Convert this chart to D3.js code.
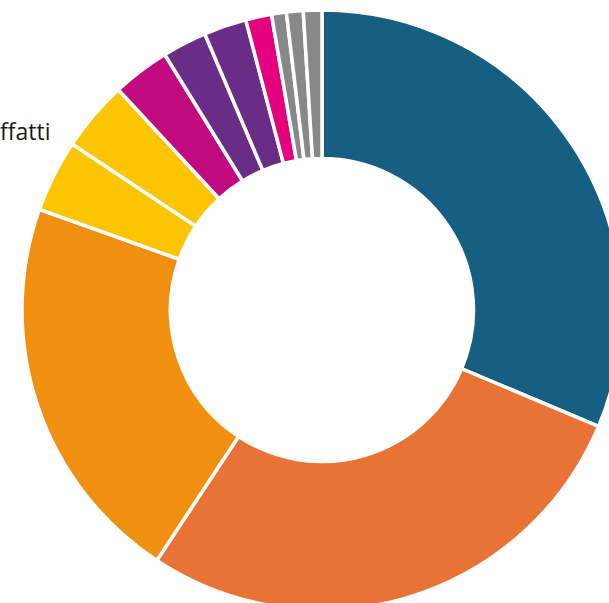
<!DOCTYPE html>
<html>
<head>
<meta charset="utf-8">
<script src="https://cdn.jsdelivr.net/npm/d3@7"></script>
<style>
  html, body { margin: 0; padding: 0; background: #fff; overflow: hidden; }
  svg { display: block; }
</style>
</head>
<body>
<div id="chart"></div>
<script>
// Slice data, clockwise from 12 o'clock
const categories = ["c1", "c2", "c3", "c4", "c5", "c6", "c7", "c8", "c9", "c10", "c11", "c12"];
const values = [31.4, 28.0, 21.2, 3.9, 3.8, 3.1, 2.4, 2.3, 1.4, 0.8, 0.9, 1.0];
const colors = ["#175f82", "#e87335", "#f18f11", "#fdc400", "#fdc400", "#c00a7e",
                "#6a2d87", "#6a2d87", "#e5007d", "#888888", "#888888", "#888888"];
// the only visible (clipped) label
const labelText = "ffatti";

const width = 609;
const height = 603;
const cx = 322, cy = 310;
const outerR = 300, innerR = 151.5;

const svg = d3.select("#chart")
    .append("svg")
    .attr("width", width)
    .attr("height", height);

const pie = d3.pie()
    .sort(null)
    .value(d => d.value);

const arc = d3.arc()
    .innerRadius(innerR)
    .outerRadius(outerR);

const data = categories.map((c, i) => ({ name: c, value: values[i], color: colors[i] }));

const g = svg.append("g").attr("transform", `translate(${cx},${cy})`);

g.selectAll("path")
    .data(pie(data))
    .join("path")
    .attr("d", arc)
    .attr("fill", d => d.data.color)
    .attr("stroke", "#fff")
    .attr("stroke-width", 3.5)
    .attr("stroke-linejoin", "miter");

svg.append("text")
    .attr("x", 0)
    .attr("y", 140)
    .style("font-family", "'Open Sans', sans-serif")
    .style("font-size", "23px")
    .style("fill", "#1a1a1a")
    .text(labelText);
</script>
</body>
</html>
